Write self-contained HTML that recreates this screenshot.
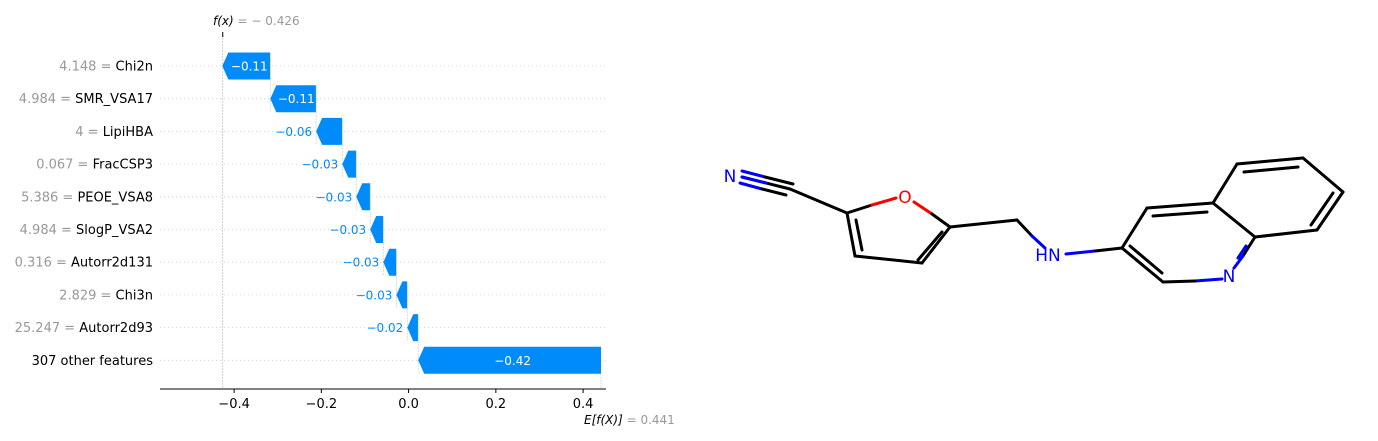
<!DOCTYPE html>
<html><head><meta charset="utf-8"><style>
html,body{margin:0;padding:0;background:#fff;width:1378px;height:441px;overflow:hidden}
svg{display:block;font-family:"DejaVu Sans","Liberation Sans",sans-serif}
</style></head><body>
<svg id="chart" width="1378" height="441">
<g id="plot"></g>
<g id="mol"></g>
</svg>
<script>
const featureValues = ["4.148","4.984","4","0.067","5.386","4.984","0.316","2.829","25.247",""];
const featureNames = ["Chi2n","SMR_VSA17","LipiHBA","FracCSP3","PEOE_VSA8","SlogP_VSA2","Autorr2d131","Chi3n","Autorr2d93","307 other features"];
const shapValues = [-0.11,-0.105,-0.06,-0.032,-0.032,-0.03,-0.03,-0.025,-0.025,-0.419];
const shapLabels = ["\u22120.11","\u22120.11","\u22120.06","\u22120.03","\u22120.03","\u22120.03","\u22120.03","\u22120.03","\u22120.02","\u22120.42"];
const baseValue = 0.441;
const fxValue = -0.426;
const xTicks = [-0.4,-0.2,0.0,0.2,0.4];
const xTickLabels = ["\u22120.4","\u22120.2","0.0","0.2","0.4"];

const NS="http://www.w3.org/2000/svg";
const X0=408.6, SC=436.25;
const xs=v=>X0+v*SC;
const rowY=i=>66+i*32.7;
const plot=document.getElementById('plot');
function mk(tag,attrs,parent){const e=document.createElementNS(NS,tag);for(const k in attrs)e.setAttribute(k,attrs[k]);(parent||plot).appendChild(e);return e;}

// grid lines
for(let i=0;i<featureNames.length;i++){
  const g=mk('line',{x1:160,x2:606,y1:rowY(i),y2:rowY(i),stroke:'#ccc','stroke-width':0.8,'stroke-dasharray':'1,3'});
  
  
}
// f(x) line
const fl=mk('line',{x1:xs(fxValue),x2:xs(fxValue),y1:35,y2:389,stroke:'#bbb','stroke-width':0.7,'stroke-dasharray':'2,1'});


const ft=mk('line',{x1:xs(fxValue),x2:xs(fxValue),y1:32,y2:37,stroke:'#000','stroke-width':1});



// bars
let cum=baseValue;
const ends=[];
for(let i=featureNames.length-1;i>=0;i--){ends[i]={hi:cum,lo:cum+shapValues[i]};cum+=shapValues[i];}
for(let i=0;i<featureNames.length;i++){
  const y=rowY(i), h=27, top=y-h/2, bot=y+h/2;
  const xl=xs(ends[i].lo), xr=xs(ends[i].hi), w=xr-xl;
  const hl=Math.min(6,w);
  const p=mk('polygon',{points:`${xr},${top} ${xl+hl},${top} ${xl},${y} ${xl+hl},${bot} ${xr},${bot}`,fill:'#008bfb'});
  
  
  // connector
  if(i<featureNames.length-1){
    const c=mk('line',{x1:xr,x2:xr,y1:top,y2:rowY(i+1)+h/2,stroke:'#ccc','stroke-width':0.7,'stroke-dasharray':'2,1'});
    
    
  } else {
    const c=mk('line',{x1:xr,x2:xr,y1:bot,y2:389,stroke:'#ccc','stroke-width':0.7,'stroke-dasharray':'2,1'});
    
    
  }
  let t;
  if(w>40){
    t=mk('text',{x:(xl+hl+xr)/2,y:y+4.5,'text-anchor':'middle','font-size':12,fill:'#fff'});
  } else {
    t=mk('text',{x:xl-4,y:y+4.5,'text-anchor':'end','font-size':12,fill:'#008bfb'});
  }
  t.textContent=shapLabels[i];
  
  
  // y label
  const lb=mk('text',{x:153,y:y+4.5,'text-anchor':'end','font-size':13});
  
  
  if(featureValues[i]){
    const s1=document.createElementNS(NS,'tspan');s1.setAttribute('fill','#999');s1.textContent=featureValues[i]+' = ';lb.appendChild(s1);
  }
  const s2=document.createElementNS(NS,'tspan');s2.setAttribute('fill','#000');s2.textContent=featureNames[i];lb.appendChild(s2);
}
// axis
const ax=mk('line',{x1:160,x2:606,y1:389,y2:389,stroke:'#000','stroke-width':1});


for(let k=0;k<xTicks.length;k++){
  const x=xs(xTicks[k]);
  const tk=mk('line',{x1:x,x2:x,y1:389,y2:393,stroke:'#000','stroke-width':1});
  
  
  const tl=mk('text',{x:x,y:408,'text-anchor':'middle','font-size':13,fill:'#000'});
  tl.textContent=xTickLabels[k];
  
  
}
// annotations
const fa=mk('text',{x:213,y:25,'font-size':12});


fa.innerHTML='<tspan font-style="italic" fill="#000">f(x)</tspan><tspan fill="#999"> = \u2212 0.426</tspan>';
const ea=mk('text',{x:584,y:424,'font-size':12});


ea.innerHTML='<tspan font-style="italic" fill="#000">E[f(X)]</tspan><tspan fill="#999"> = 0.441</tspan>';

// molecule
const mol=document.getElementById('mol');
function ln(x1,y1,x2,y2,c,name){const l=mk('line',{x1,y1,x2,y2,stroke:c||'#000','stroke-width':3,'stroke-linecap':'round'},mol);}
function tx(x,y,s,c,name){const t=mk('text',{x,y,'text-anchor':'middle','font-size':17,fill:c},mol);t.textContent=s;}
// nitrile
ln(742,177,790,189,'#000');
ln(742,171,765,177,'#00f');ln(765,177,793,184,'#000');
ln(742,177,766,183,'#00f');
ln(740,183,762,189,'#00f');ln(762,189,786,195,'#000');
ln(790,189,847,213);
// furan
ln(847,213,872,205);ln(872,205,896,198,'#f00');
ln(914,202,932,214,'#f00');ln(932,214,950,227);
ln(950,227,922,263);ln(942,232,918,260);
ln(922,263,855,256);
ln(855,256,847,213);ln(862,250,856,220);
tx(905,203,'O','#f00','oxygen-label');
// CH2-NH
ln(950,227,1017,220);
ln(1017,220,1032,236);ln(1032,236,1045,248,'#00f');
tx(1048,261,'HN','#00f','nh-label');
ln(1066,254,1095,251,'#00f');ln(1095,251,1122,248);
// quinoline
ln(1122,248,1147,208);
ln(1147,208,1213,203);ln(1153,216,1207,212);
ln(1213,203,1255,237);
ln(1255,237,1243,256);ln(1243,256,1234,268,'#00f');
ln(1246,246,1238,258,'#00f');
ln(1222,279,1195,281,'#00f');ln(1195,281,1163,282);
ln(1163,282,1122,248);ln(1162,273,1130,246);
tx(1229,282,'N','#00f','ring-nitrogen-label');
ln(1213,203,1237,164);
ln(1237,164,1303,158);ln(1244,172,1298,167);
ln(1303,158,1343,192);
ln(1343,192,1317,230);ln(1333,193,1311,225);
ln(1317,230,1255,237);
tx(730,182,'N','#00f','nitrile-nitrogen-label');
</script>
</body></html>
